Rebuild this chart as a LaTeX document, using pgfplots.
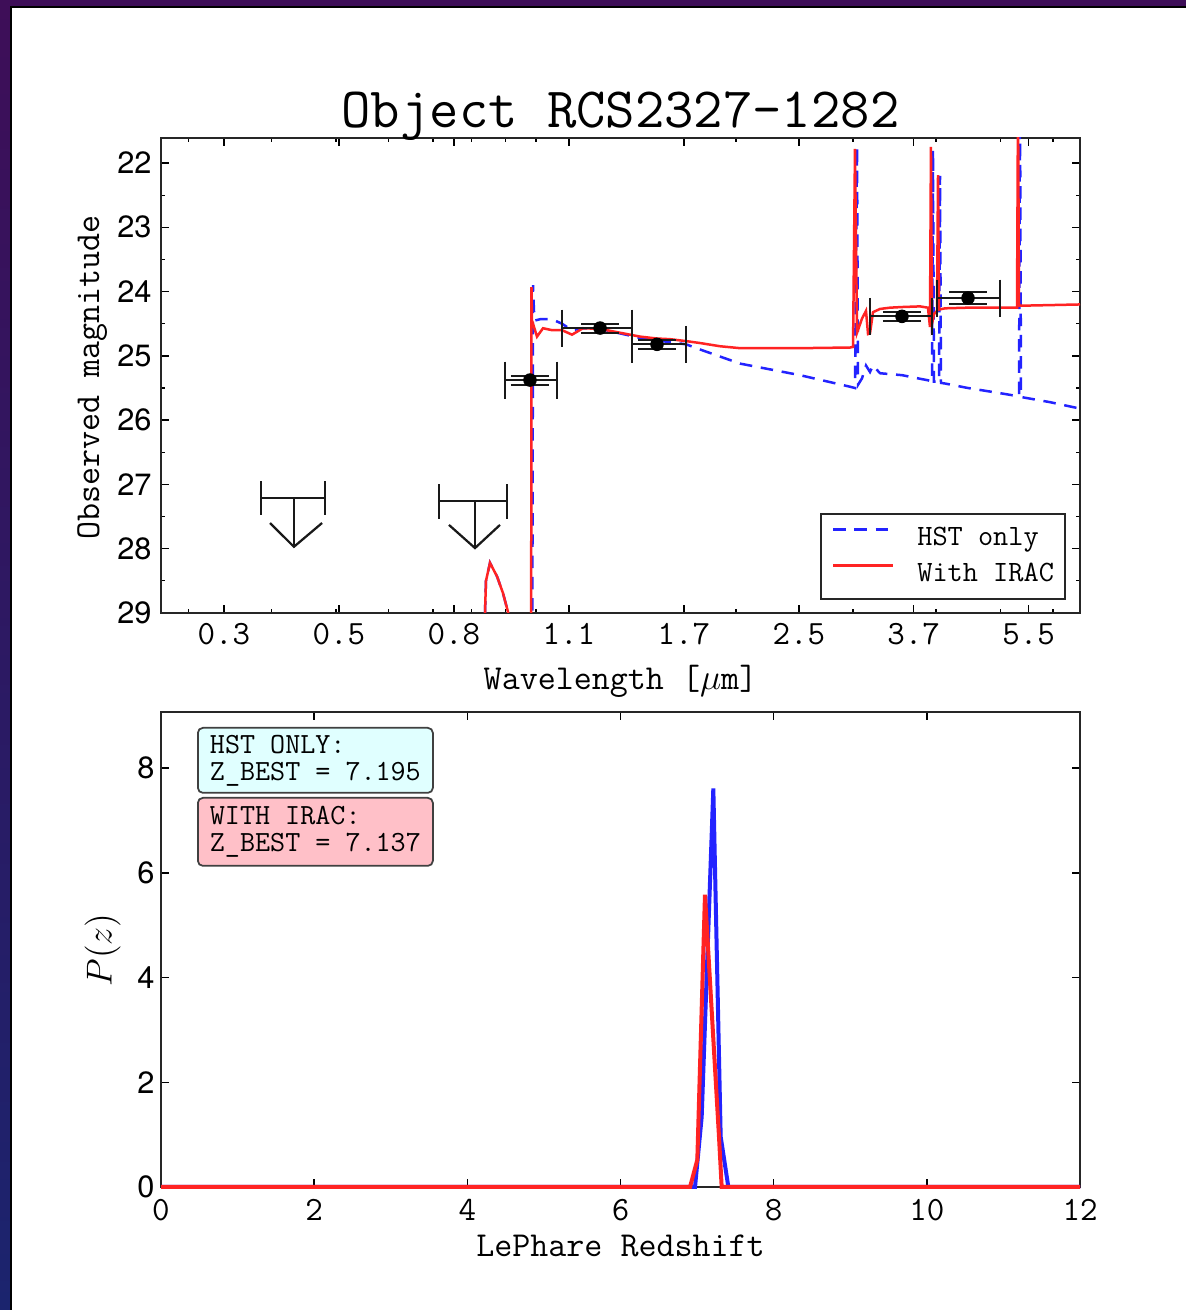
\documentclass[border=0pt]{standalone}
\usepackage{pgfplots}
\pgfplotsset{compat=1.18}
\usepackage{fontspec}
\newfontfamily\helv{TeX Gyre Heros}
\definecolor{myblue}{RGB}{35,35,255}
\definecolor{myred}{RGB}{255,35,35}
\definecolor{fpurple}{RGB}{62,14,88}
\definecolor{fnavy}{RGB}{27,36,110}
\definecolor{boxcyan}{RGB}{224,255,255}
\definecolor{boxpink}{RGB}{255,192,200}
\begin{document}
\begin{tikzpicture}
\path[use as bounding box] (0,0) rectangle (474.4pt,524pt);
\fill[white] (0,0) rectangle (474.4pt,524pt);
\shade[top color=fpurple,bottom color=fnavy] (0,0) rectangle (4pt,524pt);
\fill[fpurple] (0,521.6pt) rectangle (474.4pt,524pt);
\fill[black] (4pt,0) rectangle (4.8pt,521.6pt);
\fill[black] (4pt,520.8pt) rectangle (474.4pt,521.6pt);

\pgfplotsset{
  myaxis/.style={
    anchor=south west, width=367.6pt, height=190pt, scale only axis,
    tick align=inside, major tick length=3.2pt, minor tick length=1.6pt,
    axis line style={line width=0.8pt, black!85},
    major tick style={line width=0.6pt, black},
    minor tick style={line width=0.5pt, black},
    xticklabel style={font=\ttfamily\fontsize{13.6}{14}\selectfont, anchor=base, inner sep=0pt, yshift=-12.8pt},
  },
  eb/.style={black!90, line width=0.8pt, forget plot},
}

% ---------------- top panel ----------------
\begin{axis}[myaxis,
  at={(64.4pt,278.8pt)},
  xmode=log, xmin=0.2727, xmax=6.587,
  ymin=21.61, ymax=29, y dir=reverse,
  xtick={0.3392,0.5052,0.7524,1.1206,1.6690,2.4857,3.7022,5.5138},
  xticklabels={0.3,0.5,0.8,1.1,1.7,2.5,3.7,5.5},
  minor xtick={0.3,0.4,0.5,0.6,0.7,0.8,0.9,1,2,3,4,5,6},
  ytick={22,23,24,25,26,27,28,29},
  yticklabels={22,23,24,25,26,27,28,29},
  minor y tick num=1,
  yticklabel style={font=\helv\fontsize{12.3}{14}\selectfont, anchor=east, inner sep=0pt, xshift=-3.6pt},
  legend style={at={(0.9848,0.0274)}, anchor=south east, draw=black!85, line width=0.8pt,
    font=\ttfamily\fontsize{11.8}{13}\selectfont, inner xsep=4.4pt, inner ysep=5.5pt,
    nodes={inner sep=0pt}, column sep=9.2pt, row sep=5.4pt},
  legend cell align=left,
  legend image code/.code={\draw[#1] (0pt,0.35em) -- (24pt,0.35em);},
]
\addplot[myblue, line width=1pt, dash pattern=on 5pt off 3.5pt] coordinates {
(0.8322,30) (0.8409,28.5) (0.8526,28.22) (0.8736,28.43) (0.8919,28.69) (0.9138,29.1) (0.9300,32)
(0.9862,32) (0.9897,23.9) (0.9930,24.3) (0.9965,24.45) (1.0140,24.43) (1.0570,24.43) (1.0943,24.50)
(1.1329,24.60) (1.1769,24.57) (1.2485,24.58) (1.3379,24.65) (1.4339,24.72) (1.5209,24.76)
(1.6818,24.82) (1.7652,24.90) (2.0277,25.12) (2.1733,25.18) (2.4963,25.30) (2.9693,25.48)
(3.0204,25.50) (3.0418,21.75) (3.0520,25.45) (3.0946,25.35) (3.1378,25.15) (3.1816,25.25)
(3.2149,25.15) (3.2939,25.27) (3.5546,25.30) (3.8897,25.38) (3.9440,25.40) (3.9580,21.80)
(3.9715,25.40) (4.0409,25.40) (4.0550,22.20) (4.0689,25.42) (4.1257,25.43) (4.4681,25.50)
(4.9919,25.58) (5.3317,25.63) (5.3500,21.0) (5.3689,25.64) (5.9364,25.72) (6.5869,25.82)
};
\addlegendentry{HST only}
\addplot[myred, line width=1pt] coordinates {
(0.8322,30) (0.8409,28.5) (0.8526,28.22) (0.8736,28.43) (0.8919,28.69) (0.9138,29.1) (0.9300,32)
(0.9828,32) (0.9845,23.93) (0.9862,24.45) (1.0035,24.70) (1.0246,24.57) (1.0570,24.60)
(1.0943,24.60) (1.1329,24.67) (1.1769,24.57) (1.2485,24.58) (1.3379,24.64) (1.4339,24.70)
(1.5209,24.73) (1.5910,24.74) (1.6818,24.77) (1.7652,24.80) (1.8918,24.85) (2.0277,24.88)
(2.1733,24.88) (2.4963,24.88) (2.9693,24.87) (3.0000,24.86) (3.0204,21.78) (3.0418,24.64)
(3.0946,24.42) (3.1378,24.30) (3.1600,24.66) (3.1816,24.65) (3.2149,24.32) (3.2939,24.27)
(3.4098,24.25) (3.5546,24.24) (3.7834,24.23) (3.8897,24.25) (3.9168,24.55) (3.9300,21.75)
(3.9440,24.50) (3.9715,24.35) (4.0129,24.30) (4.0270,22.19) (4.0409,24.28) (4.1257,24.26)
(4.4681,24.25) (4.9919,24.25) (5.2949,24.25) (5.3133,21.0) (5.3317,24.22) (5.9364,24.21)
(6.5869,24.20)
};
\addlegendentry{With IRAC}
% ---- photometry error bars (x bar, x caps, y bar, y caps) ----
% point 1
\addplot[eb] coordinates {(0.8981,25.376) (1.0755,25.376)};
\addplot[eb] coordinates {(0.8981,25.088) (0.8981,25.664)};
\addplot[eb] coordinates {(1.0755,25.088) (1.0755,25.664)};
\addplot[eb] coordinates {(0.9794,25.306) (0.9794,25.446)};
\addplot[eb] coordinates {(0.9170,25.306) (1.0460,25.306)};
\addplot[eb] coordinates {(0.9170,25.446) (1.0460,25.446)};
% point 2
\addplot[eb] coordinates {(1.0943,24.567) (1.3947,24.567)};
\addplot[eb] coordinates {(1.0943,24.279) (1.0943,24.855)};
\addplot[eb] coordinates {(1.3947,24.279) (1.3947,24.855)};
\addplot[eb] coordinates {(1.2485,24.497) (1.2485,24.637)};
\addplot[eb] coordinates {(1.1690,24.497) (1.3334,24.497)};
\addplot[eb] coordinates {(1.1690,24.637) (1.3334,24.637)};
% point 3
\addplot[eb] coordinates {(1.3947,24.820) (1.6818,24.820)};
\addplot[eb] coordinates {(1.3947,24.532) (1.3947,25.108)};
\addplot[eb] coordinates {(1.6818,24.532) (1.6818,25.108)};
\addplot[eb] coordinates {(1.5209,24.750) (1.5209,24.890)};
\addplot[eb] coordinates {(1.4241,24.750) (1.6243,24.750)};
\addplot[eb] coordinates {(1.4241,24.890) (1.6243,24.890)};
% point 4
\addplot[eb] coordinates {(3.1816,24.385) (3.9440,24.385)};
\addplot[eb] coordinates {(3.1816,24.097) (3.1816,24.673)};
\addplot[eb] coordinates {(3.9440,24.097) (3.9440,24.673)};
\addplot[eb] coordinates {(3.5546,24.315) (3.5546,24.455)};
\addplot[eb] coordinates {(3.3283,24.315) (3.7963,24.315)};
\addplot[eb] coordinates {(3.3283,24.455) (3.7963,24.455)};
% point 5
\addplot[eb] coordinates {(4.0129,24.100) (4.9919,24.100)};
\addplot[eb] coordinates {(4.0129,23.812) (4.0129,24.388)};
\addplot[eb] coordinates {(4.9919,23.812) (4.9919,24.388)};
\addplot[eb] coordinates {(4.4681,24.010) (4.4681,24.190)};
\addplot[eb] coordinates {(4.1836,24.010) (4.7719,24.010)};
\addplot[eb] coordinates {(4.1836,24.190) (4.7719,24.190)};
% markers
\addplot[black, only marks, mark=*, mark size=2.5pt, forget plot] coordinates {
  (0.9794,25.376) (1.2485,24.567) (1.5209,24.820) (3.5546,24.385) (4.4681,24.100)};
% upper limits
\addplot[eb, line width=0.9pt] coordinates {(0.38565,27.21) (0.48148,27.21)};
\addplot[eb, line width=0.9pt] coordinates {(0.38565,26.95) (0.38565,27.48)};
\addplot[eb, line width=0.9pt] coordinates {(0.48148,26.95) (0.48148,27.48)};
\addplot[eb, line width=0.9pt] coordinates {(0.43225,27.21) (0.43225,27.97)};
\addplot[eb, line width=0.9pt] coordinates {(0.3979,27.60) (0.43225,27.97) (0.4765,27.60)};
\addplot[eb, line width=0.9pt] coordinates {(0.71450,27.26) (0.90441,27.26)};
\addplot[eb, line width=0.9pt] coordinates {(0.71450,27.00) (0.71450,27.53)};
\addplot[eb, line width=0.9pt] coordinates {(0.90441,27.00) (0.90441,27.53)};
\addplot[eb, line width=0.9pt] coordinates {(0.80945,27.26) (0.80945,27.99)};
\addplot[eb, line width=0.9pt] coordinates {(0.73968,27.63) (0.80945,27.99) (0.88267,27.63)};
\end{axis}

% ---------------- bottom panel ----------------
\begin{axis}[myaxis,
  at={(64.4pt,49.2pt)},
  xmin=0, xmax=12, ymin=0, ymax=9.07,
  xtick={0,2,4,6,8,10,12}, xticklabels={0,2,4,6,8,10,12},
  ytick={0,2,4,6,8}, yticklabels={0,2,4,6,8},
  xticklabel style={yshift=-0.4pt},
  yticklabel style={font=\helv\fontsize{12.3}{14}\selectfont, anchor=east, inner sep=0pt, xshift=-2.4pt},
  clip=false,
]
\addplot[myblue, line width=1.6pt] coordinates {(0,0) (6.973,0) (7.060,1.34) (7.212,7.61) (7.308,0.96) (7.408,0) (12,0)};
\addplot[myred, line width=1.6pt] coordinates {(0,0) (6.908,0) (7.003,0.52) (7.103,5.58) (7.286,0.96) (7.321,0) (12,0)};
\end{axis}

% ---------------- texts ----------------
\node[anchor=base, font=\ttfamily\fontsize{22.8}{24}\selectfont] at (248.2pt,472.8pt) {Object RCS2327-1282};
\node[anchor=base, font=\ttfamily\fontsize{14}{16}\selectfont] at (248.2pt,248pt) {Wavelength [$\mu$m]};
\node[anchor=base, rotate=90, font=\ttfamily\fontsize{14}{16}\selectfont] at (39.6pt,373pt) {Observed magnitude};
\node[anchor=base, font=\ttfamily\fontsize{14}{16}\selectfont] at (248.2pt,21.2pt) {LePhare Redshift};
\node[anchor=base, rotate=90, font=\fontsize{13.6}{16}\selectfont] at (44.6pt,144pt) {$P(z)$};

\node[anchor=north west, draw=black!75, line width=0.7pt, fill=boxcyan, rounded corners=2pt,
  minimum width=94pt, minimum height=26pt, align=left, inner sep=0pt,
  font=\ttfamily\fontsize{11.7}{10.8}\selectfont] at (78.8pt,233.2pt) {HST ONLY:\\Z\_BEST = 7.195};
\node[anchor=north west, draw=black!75, line width=0.7pt, fill=boxpink, rounded corners=2pt,
  minimum width=94pt, minimum height=27.2pt, align=left, inner sep=0pt,
  font=\ttfamily\fontsize{11.7}{10.8}\selectfont] at (78.8pt,205.2pt) {WITH IRAC:\\Z\_BEST = 7.137};
\end{tikzpicture}
\end{document}
